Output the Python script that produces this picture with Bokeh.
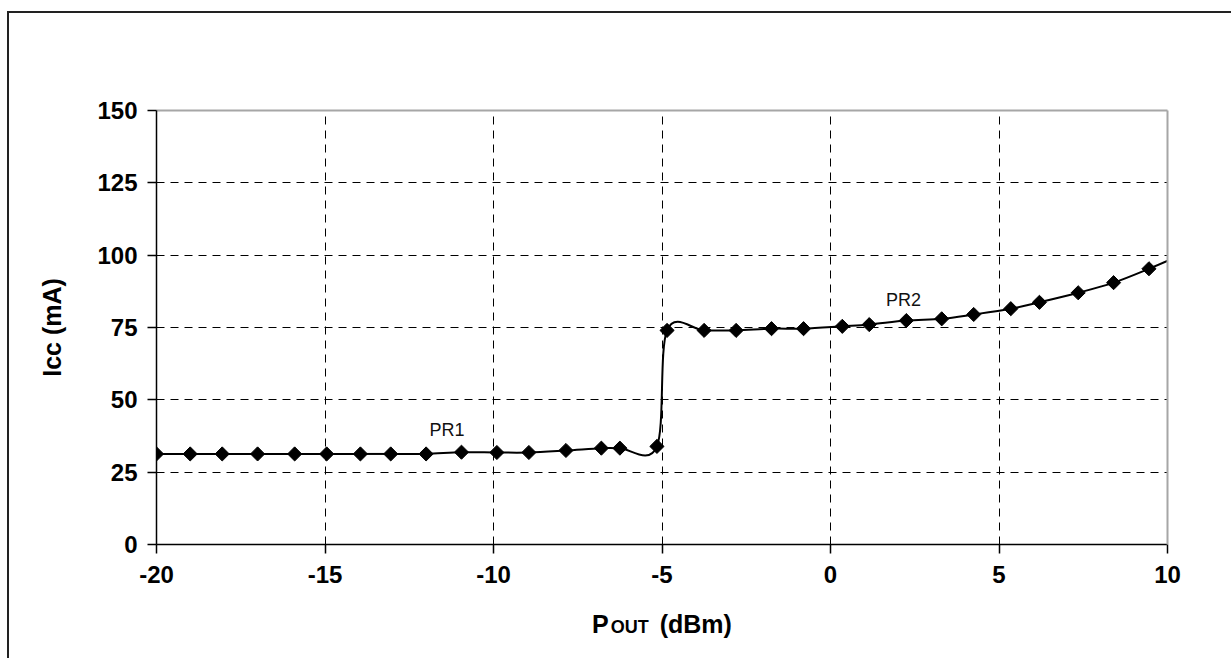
import numpy as np
from bokeh.plotting import figure
from bokeh.models import Range1d, FixedTicker, LinearAxis, PrintfTickFormatter, Div
from bokeh.core.properties import value
from bokeh.embed import file_html
from bokeh.resources import INLINE

# Output power sweep (dBm) and supply current (mA)
pout = [-20.0, -19.0, -18.05, -17.0, -15.9, -14.95, -13.95, -13.05, -12.0, -10.95,
        -9.9, -8.95, -7.85, -6.8, -6.25, -5.15, -4.85, -3.75, -2.8, -1.75,
        -0.8, 0.35, 1.15, 2.25, 3.3, 4.25, 5.35, 6.2, 7.35, 8.4, 9.45]
icc = [31.3, 31.3, 31.3, 31.3, 31.3, 31.3, 31.3, 31.3, 31.3, 31.9,
       31.8, 31.8, 32.5, 33.3, 33.3, 33.9, 74.0, 74.0, 74.0, 74.6,
       74.6, 75.4, 76.0, 77.4, 78.0, 79.5, 81.5, 83.7, 87.0, 90.5, 95.3]
# the trace keeps rising past the end of the axis
tail_pout = [10.5]
tail_icc = [100.6]

x_ticks = [-20, -15, -10, -5, 0, 5, 10]
y_ticks = [0, 25, 50, 75, 100, 125, 150]

regions = ["PR1", "PR2"]
region_x = [-11.9, 1.65]
region_y = [39.6, 84.4]

FONT = "Liberation Sans"

p = figure(width=1223, height=646, output_backend="svg", toolbar_location=None,
           x_range=Range1d(-20, 10), y_range=Range1d(0, 150),
           frame_width=1011, frame_height=434,
           min_border_left=147, min_border_top=97, min_border_right=65, min_border_bottom=115,
           background_fill_color="white", border_fill_color="white",
           styles={"position": "absolute", "left": "7px", "top": "11px",
                   "border-left": "2px solid #222222", "border-top": "2px solid #222222"})
p.outline_line_color = None

for ax, ticks in ((p.xaxis[0], x_ticks), (p.yaxis[0], y_ticks)):
    ax.ticker = FixedTicker(ticks=ticks)
    ax.formatter = PrintfTickFormatter(format="%d")
    ax.axis_line_color = "black"
    ax.axis_line_width = 1.5
    ax.major_tick_line_color = "black"
    ax.major_tick_line_width = 1.5
    ax.major_tick_out = 9
    ax.major_tick_in = 0
    ax.minor_tick_line_color = None
    ax.major_label_text_font = FONT
    ax.major_label_text_font_style = "bold"
    ax.major_label_text_font_size = "24px"
    ax.major_label_text_color = "black"

p.xaxis.major_label_standoff = 12
p.yaxis.major_label_standoff = 10
p.yaxis.axis_label = "Icc (mA)"
p.yaxis.axis_label_text_font = FONT
p.yaxis.axis_label_text_font_style = "bold"
p.yaxis.axis_label_text_font_size = "25px"
p.yaxis.axis_label_text_color = "black"
p.yaxis.axis_label_standoff = 28

# grey frame edges on top and right
for side in ("above", "right"):
    edge = LinearAxis(ticker=FixedTicker(ticks=[]), axis_line_color="#a6a6a6", axis_line_width=2,
                      major_tick_line_color=None, minor_tick_line_color=None,
                      major_label_text_font_size="0px")
    p.add_layout(edge, side)

for g in (p.xgrid[0], p.ygrid[0]):
    g.grid_line_color = "black"
    g.grid_line_width = 1
    g.grid_line_dash = "8 6"
p.xgrid.ticker = FixedTicker(ticks=x_ticks)
p.ygrid.ticker = FixedTicker(ticks=y_ticks)

# smoothed trace: cardinal-spline bezier segments through the points
xs = np.array(pout + tail_pout)
ys = np.array(icc + tail_icc)
n = len(xs)
xp = np.concatenate([[xs[0]], xs, [xs[-1]]])
yp = np.concatenate([[ys[0]], ys, [ys[-1]]])
cx0 = xs[:-1] + (xp[2:n + 1] - xp[0:n - 1]) / 6.0
cy0 = ys[:-1] + (yp[2:n + 1] - yp[0:n - 1]) / 6.0
cx1 = xs[1:] - (xp[3:n + 2] - xp[1:n]) / 6.0
cy1 = ys[1:] - (yp[3:n + 2] - yp[1:n]) / 6.0
p.bezier(x0=xs[:-1], y0=ys[:-1], x1=xs[1:], y1=ys[1:],
         cx0=cx0, cy0=cy0, cx1=cx1, cy1=cy1, line_color="black", line_width=2)

p.scatter(pout, icc, marker="square", size=10, angle=np.pi / 4,
          fill_color="black", line_color="black")

p.text(x=region_x, y=region_y, text=regions, text_font=value(FONT),
       text_font_size="18px", text_color="#111111", text_baseline="alphabetic", text_align="left")

# x-axis title with small-caps subscript
x_title = Div(
    text=('<span style="font-size:25px">P</span>'
          '<span style="font-size:18px;margin-left:2px">OUT</span>'
          '<span style="font-size:25px;margin-left:4px">&nbsp;(dBm)</span>'),
    styles={"position": "absolute", "left": "592px", "top": "610px",
            "font-family": "'Liberation Sans', Arial, sans-serif", "font-weight": "bold",
            "color": "black", "white-space": "nowrap", "line-height": "normal",
            "margin": "0", "padding": "0"})

open("out.html", "w").write(file_html([p, x_title], INLINE))
